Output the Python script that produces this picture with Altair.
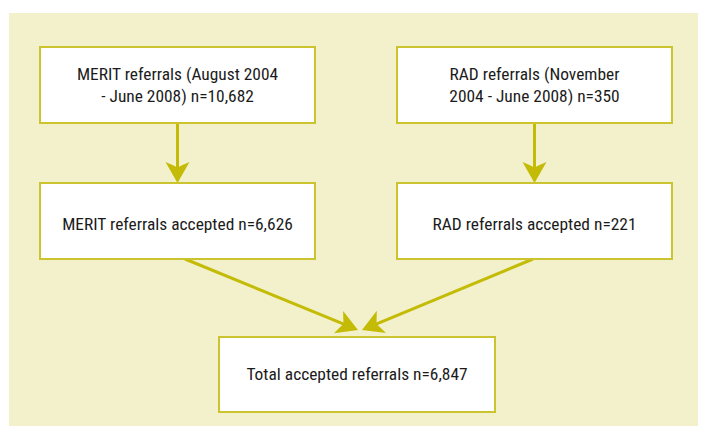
import math
import altair as alt
import pandas as pd

# ---- data (diagram layout in image pixel units) ----
box_x0 = [40, 397, 40, 397, 219]
box_x1 = [315, 672, 315, 672, 495]
box_y0 = [47, 47, 183, 183, 337]
box_y1 = [123, 123, 259, 259, 412]

text_lines = [
    "MERIT referrals (August 2004",
    "- June 2008) n=10,682",
    "RAD referrals (November",
    "2004 - June 2008) n=350",
    "MERIT referrals accepted n=6,626",
    "RAD referrals accepted n=221",
    "Total accepted referrals n=6,847",
]
text_box = [0, 0, 1, 1, 2, 3, 4]
text_base = [80, 102, 80, 102, 230, 230, 380]

conn_x0 = [177.5, 534.5, 185, 533]
conn_y0 = [123, 123, 259, 259]
conn_x1 = [177.5, 534.5, 358, 362]
conn_y1 = [183, 183, 330, 330]

panel = {"x0": 9, "x1": 698, "y0": 13, "y1": 426}

W, H = 690, 418
BG = "#F2F1CC"
EDGE = "#CBC42E"
ARROW = "#C3BB05"
HEAD = 24  # arrowhead width in px
FONT = ("'Liberation Sans Narrow', 'Roboto Condensed', 'Noto Sans Condensed', "
        "'DejaVu Sans Condensed', 'Liberation Sans', sans-serif")

# ---- derived tables ----
boxes = pd.DataFrame({"x0": box_x0, "x1": box_x1, "y0": box_y0, "y1": box_y1})
texts = pd.DataFrame({
    "t": text_lines,
    "x": [(box_x0[b] + box_x1[b]) / 2 for b in text_box],
    "y": text_base,
})

line_rows, head_rows = [], []
r = HEAD / 2
for a, b, c, d in zip(conn_x0, conn_y0, conn_x1, conn_y1):
    dx, dy = c - a, d - b
    n = math.hypot(dx, dy)
    ux, uy = dx / n, dy / n
    cx, cy = c - r * ux, d - r * uy
    ang = math.degrees(math.atan2(-ux, uy)) % 360
    line_rows.append({"x0": a, "y0": b, "x1": cx, "y1": cy})
    head_rows.append({"x": cx, "y": cy, "ang": ang})
lines = pd.DataFrame(line_rows)
heads = pd.DataFrame(head_rows)
bg = pd.DataFrame([panel])

xs = alt.Scale(domain=[8, 8 + W], nice=False, zero=False)
ys = alt.Scale(domain=[8 + H, 8], nice=False, zero=False)

background = alt.Chart(bg).mark_rect(color=BG).encode(
    x=alt.X("x0:Q", scale=xs, axis=None), x2="x1:Q",
    y=alt.Y("y0:Q", scale=ys, axis=None), y2="y1:Q",
)

rects = alt.Chart(boxes).mark_rect(fill="white", stroke=EDGE, strokeWidth=2).encode(
    x=alt.X("x0:Q", scale=xs, axis=None), x2="x1:Q",
    y=alt.Y("y0:Q", scale=ys, axis=None), y2="y1:Q",
)

rules = alt.Chart(lines).mark_rule(color=ARROW, strokeWidth=3).encode(
    x=alt.X("x0:Q", scale=xs, axis=None), x2="x1:Q",
    y=alt.Y("y0:Q", scale=ys, axis=None), y2="y1:Q",
)

arrow_path = "M0,1 L-1,-0.75 Q-0.4,-0.5 0,-0.3 Q0.4,-0.5 1,-0.75 Z"
arrowheads = alt.Chart(heads).mark_point(
    shape=arrow_path, filled=True, color=ARROW, opacity=1, size=HEAD * HEAD, strokeWidth=0
).encode(
    x=alt.X("x:Q", scale=xs, axis=None),
    y=alt.Y("y:Q", scale=ys, axis=None),
    angle=alt.Angle("ang:Q", scale=None),
)

labels = alt.Chart(texts).mark_text(
    font=FONT, fontSize=17.4, color="#1b1b1b", align="center", baseline="alphabetic",
).encode(
    x=alt.X("x:Q", scale=xs, axis=None),
    y=alt.Y("y:Q", scale=ys, axis=None),
    text="t:N",
)

chart = alt.layer(background, rules, arrowheads, rects, labels).properties(
    width=W, height=H, padding=0, autosize=alt.AutoSizeParams(type="none")
).configure_view(stroke=None)

chart.save("out.html", embed_options={"renderer": "svg", "actions": False})
